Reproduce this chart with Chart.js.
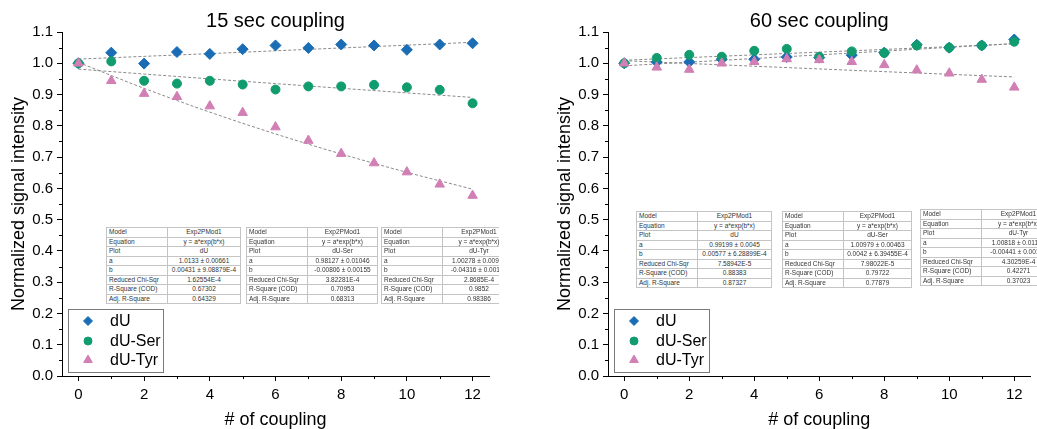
<!DOCTYPE html>
<html>
<head>
<meta charset="utf-8">
<script src="https://cdn.jsdelivr.net/npm/chart.js@4.4.1/dist/chart.umd.min.js"></script>
<style>
  body { margin: 0; background: #fff; width: 1037px; height: 429px; overflow: hidden; position: relative; }
  canvas { position: absolute; top: 0; }
  #c15 { left: 0; }
  #c60 { left: 546px; }
  .fit { position: absolute; overflow: hidden; z-index: 2; }
  .fit table { border-collapse: collapse; table-layout: fixed; font: 6.5px "Liberation Sans", Arial, sans-serif; color: #333; background: #fff; }
  .fit td { border: 1px solid #c4c4c4; height: 8.5px; padding: 0 2px; white-space: nowrap; overflow: hidden; line-height: 8px; }
  .fit td:nth-child(2) { text-align: center; }
</style>
</head>
<body>
<canvas id="c15" width="518" height="429"></canvas>
<canvas id="c60" width="491" height="429"></canvas>
<script>
// # of coupling
const coupling = [0, 1, 2, 3, 4, 5, 6, 7, 8, 9, 10, 11, 12];

// 15 sec coupling
const dU15  = [1.000, 1.034, 0.999, 1.036, 1.030, 1.045, 1.057, 1.049, 1.060, 1.057, 1.043, 1.060, 1.064];
const ser15 = [1.000, 1.006, 0.944, 0.935, 0.944, 0.932, 0.916, 0.926, 0.926, 0.931, 0.923, 0.915, 0.872];
const tyr15 = [1.000, 0.944, 0.903, 0.893, 0.863, 0.842, 0.796, 0.753, 0.711, 0.681, 0.652, 0.613, 0.577];

// 60 sec coupling
const dU60  = [1.000, 1.004, 1.004, 1.013, 1.013, 1.020, 1.018, 1.026, 1.034, 1.059, 1.050, 1.057, 1.076];
const ser60 = [1.000, 1.017, 1.027, 1.021, 1.040, 1.046, 1.021, 1.038, 1.033, 1.057, 1.050, 1.057, 1.069];
const tyr60 = [1.000, 0.987, 0.980, 1.000, 1.005, 1.014, 1.011, 1.005, 0.995, 0.978, 0.968, 0.948, 0.923];

// fitted curves, read at every second coupling
const fitX = [0, 2, 4, 6, 8, 10, 12];
const fitDU15  = [1.0133, 1.0221, 1.0309, 1.0399, 1.0489, 1.0579, 1.0671];
const fitSer15 = [0.9813, 0.9656, 0.9501, 0.9350, 0.9200, 0.9053, 0.8908];
const fitTyr15 = [1.0028, 0.9199, 0.8438, 0.7740, 0.7100, 0.6513, 0.5974];
const fitDU60  = [0.9920, 1.0035, 1.0152, 1.0269, 1.0389, 1.0509, 1.0631];
const fitSer60 = [1.0098, 1.0183, 1.0269, 1.0356, 1.0443, 1.0531, 1.0620];
const fitTyr60 = [1.0082, 0.9993, 0.9906, 0.9819, 0.9732, 0.9647, 0.9562];

const seriesNames = ["dU", "dU-Ser", "dU-Tyr"];
const yTicks = [0, 0.1, 0.2, 0.3, 0.4, 0.5, 0.6, 0.7, 0.8, 0.9, 1.0, 1.1];
const xMinor = [1, 3, 5, 7, 9, 11];
const yMinor = [0.05, 0.15, 0.25, 0.35, 0.45, 0.55, 0.65, 0.75, 0.85, 0.95, 1.05];

// fit report tables
const tableRows = ["Model", "Equation", "Plot", "a", "b", "Reduced Chi-Sqr", "R-Square (COD)", "Adj. R-Square"];
const table15 = [
  ["Exp2PMod1", "y = a*exp(b*x)", "dU", "1.0133 ± 0.00661", "0.00431 ± 9.08879E-4", "1.62554E-4", "0.67302", "0.64329"],
  ["Exp2PMod1", "y = a*exp(b*x)", "dU-Ser", "0.98127 ± 0.01046", "-0.00806 ± 0.00155", "3.82281E-4", "0.70953", "0.68313"],
  ["Exp2PMod1", "y = a*exp(b*x)", "dU-Tyr", "1.00278 ± 0.00983", "-0.04316 ± 0.00172", "2.8685E-4", "0.9852", "0.98386"],
];
const table60 = [
  ["Exp2PMod1", "y = a*exp(b*x)", "dU", "0.99199 ± 0.0045", "0.00577 ± 6.28899E-4", "7.58942E-5", "0.88383", "0.87327"],
  ["Exp2PMod1", "y = a*exp(b*x)", "dU-Ser", "1.00979 ± 0.00463", "0.0042 ± 6.39455E-4", "7.98022E-5", "0.79722", "0.77879"],
  ["Exp2PMod1", "y = a*exp(b*x)", "dU-Tyr", "1.00818 ± 0.01183", "-0.00441 ± 0.00155", "4.30259E-4", "0.42271", "0.37023"],
];

const blue = "#1a6db5";
const green = "#109c6e";
const pink = "#d17fb4";
const colors = [blue, green, pink];
const styles = ["rectRot", "circle", "triangle"];
const radii = [5.5, 4.5, 5.5];

Chart.defaults.font.family = '"Liberation Sans", Arial, sans-serif';
Chart.defaults.color = "#000";

const pts = (xs, ys) => xs.map((x, i) => ({ x: x, y: ys[i] }));

function buildTables(rows, left, tops, widths, clips) {
  rows.forEach((vals, t) => {
    const div = document.createElement("div");
    div.className = "fit";
    div.style.left = left[t] + "px";
    div.style.top = tops[t] + "px";
    div.style.width = clips[t] + "px";
    let html = '<table style="width:' + widths[t] + 'px"><colgroup><col style="width:61px"><col></colgroup>';
    tableRows.forEach((r, i) => { html += "<tr><td>" + r + "</td><td>" + vals[i] + "</td></tr>"; });
    div.innerHTML = html + "</table>";
    document.body.appendChild(div);
  });
}

// minor ticks, Origin style
const minorTicks = {
  id: "minorTicks",
  afterDraw(chart) {
    const { ctx, scales: { x, y } } = chart;
    ctx.save();
    ctx.strokeStyle = "#000";
    ctx.lineWidth = 1;
    ctx.beginPath();
    xMinor.forEach(v => {
      const px = Math.round(x.getPixelForValue(v)) + 0.5;
      ctx.moveTo(px, y.bottom); ctx.lineTo(px, y.bottom + 3);
    });
    yMinor.forEach(v => {
      const py = Math.round(y.getPixelForValue(v)) + 0.5;
      ctx.moveTo(x.left, py); ctx.lineTo(x.left - 3, py);
    });
    ctx.stroke();
    ctx.restore();
  },
};

// legend box in the lower left of the plot
const innerLegend = {
  id: "innerLegend",
  afterDraw(chart) {
    const ctx = chart.ctx;
    const ca = chart.chartArea;
    const bx = ca.left + 6, by = ca.bottom - 4 - 63;
    ctx.save();
    ctx.strokeStyle = "#7a7a7a";
    ctx.lineWidth = 1;
    ctx.strokeRect(bx + 0.5, by + 0.5, 95, 63);
    const rowY = [12, 32, 51];
    const legR = [4.5, 4, 5];
    seriesNames.forEach((name, i) => {
      ctx.fillStyle = colors[i];
      ctx.strokeStyle = colors[i];
      Chart.helpers.drawPoint(ctx, { pointStyle: styles[i], radius: legR[i], rotation: 0, borderWidth: 1 }, bx + 20, by + rowY[i]);
      ctx.fillStyle = "#000";
      ctx.font = '16px "Liberation Sans", Arial, sans-serif';
      ctx.textBaseline = "middle";
      ctx.textAlign = "left";
      ctx.fillText(name, bx + 42, by + rowY[i] + 1);
    });
    ctx.restore();
  },
};

function makePanel(id, title, series, fits, padRight) {
  const datasets = [];
  series.forEach((ys, i) => {
    datasets.push({
      type: "scatter",
      label: seriesNames[i],
      data: pts(coupling, ys),
      pointStyle: styles[i],
      pointRadius: radii[i],
      backgroundColor: colors[i],
      borderColor: colors[i],
      borderWidth: 1,
      order: 3 - i,
    });
  });
  fits.forEach((ys, i) => {
    datasets.push({
      type: "line",
      label: "fit " + seriesNames[i],
      data: pts(fitX, ys),
      borderColor: "#8a8a8a",
      borderWidth: 1,
      borderDash: [3, 2],
      pointRadius: 0,
      cubicInterpolationMode: "monotone",
      fill: false,
      order: 10,
    });
  });

  new Chart(document.getElementById(id), {
    type: "scatter",
    data: { datasets },
    options: {
      responsive: false,
      animation: false,
      layout: { padding: { right: padRight, left: 0, top: 0, bottom: 0 } },
      plugins: {
        legend: { display: false },
        tooltip: { enabled: false },
        title: {
          display: true,
          text: title,
          fullSize: false,
          color: "#000",
          font: { size: 20, weight: "normal", lineHeight: 1.1 },
          padding: { top: 10, bottom: 0 },
        },
      },
      scales: {
        x: {
          type: "linear",
          min: -0.5,
          max: 12.5,
          afterFit: (s) => { s.height = 53; },
          ticks: { stepSize: 2, includeBounds: false, padding: 5, font: { size: 15 }, color: "#000" },
          grid: { drawOnChartArea: false, tickLength: 5, tickColor: "#000" },
          border: { color: "#000", width: 1 },
          title: { display: true, text: "# of coupling", color: "#000", font: { size: 18, lineHeight: 1 }, padding: { top: 0, bottom: 0 } },
        },
        y: {
          type: "linear",
          min: 0,
          max: 1.1,
          afterFit: (s) => { s.width = 62; },
          afterBuildTicks: (s) => { s.ticks = yTicks.map(v => ({ value: v })); },
          ticks: { padding: 4, font: { size: 15 }, color: "#000", callback: (v) => Number(v).toFixed(1) },
          grid: { drawOnChartArea: false, tickLength: 5, tickColor: "#000" },
          border: { color: "#000", width: 1 },
          title: { display: true, text: "Normalized signal intensity", color: "#000", font: { size: 18 }, padding: { top: 8, bottom: 0 } },
        },
      },
    },
    plugins: [minorTicks, innerLegend],
  });
}

makePanel("c15", "15 sec coupling", [dU15, ser15, tyr15], [fitDU15, fitSer15, fitTyr15], 29);
makePanel("c60", "60 sec coupling", [dU60, ser60, tyr60], [fitDU60, fitSer60, fitTyr60], 0);

buildTables(table15, [106, 246, 381], [227, 227, 227], [135, 132, 135], [135, 132, 118]);
buildTables(table60, [636, 782, 920], [211, 211, 209], [136, 130, 136], [136, 130, 117]);
</script>
</body>
</html>
